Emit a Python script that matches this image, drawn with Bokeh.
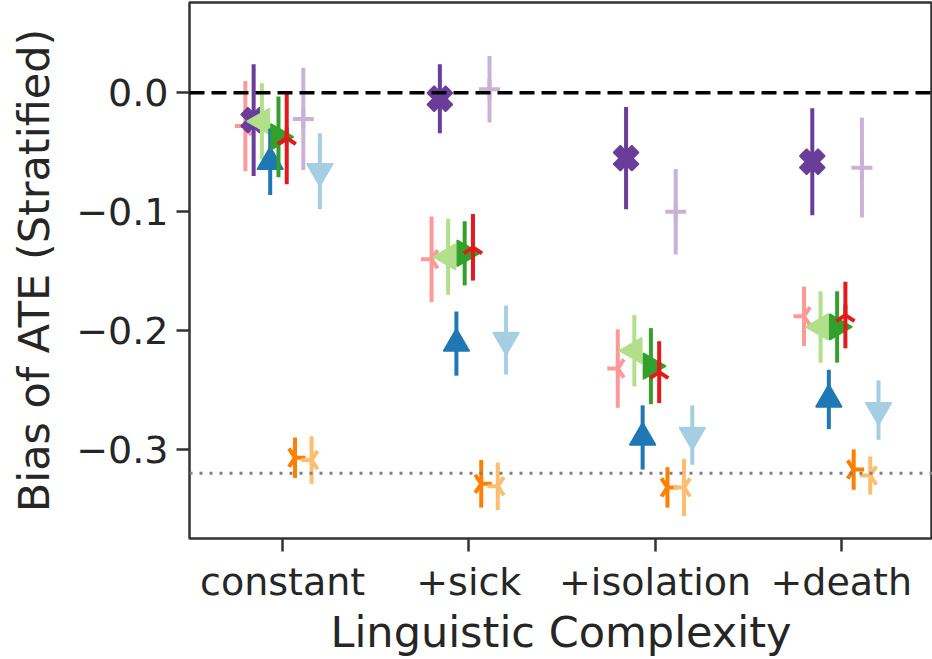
import numpy as np
from bokeh.plotting import figure
from bokeh.models import Range1d, FixedTicker, Span, ColumnDataSource
from bokeh.embed import file_html
from bokeh.resources import INLINE

# ---------------- data ----------------
categories = ["constant", "+sick", "+isolation", "+death"]
y_tick_values = [-0.3, -0.2, -0.1, 0.0]
y_tick_labels = ["\u22120.3", "\u22120.2", "\u22120.1", "0.0"]
zero_line = 0.0
reference_bias = -0.32

pink_vals = [-0.028, -0.140, -0.232, -0.188]
pink_err = [0.038, 0.036, 0.033, 0.025]
purple_vals = [-0.023, -0.005, -0.055, -0.058]
purple_err = [0.047, 0.029, 0.043, 0.045]
lgreen_vals = [-0.024, -0.138, -0.217, -0.197]
lgreen_err = [0.032, 0.032, 0.030, 0.030]
blue_vals = [-0.058, -0.211, -0.290, -0.258]
blue_err = [0.028, 0.027, 0.027, 0.025]
green_vals = [-0.037, -0.135, -0.230, -0.197]
green_err = [0.034, 0.027, 0.032, 0.030]
red_vals = [-0.038, -0.130, -0.235, -0.187]
red_err = [0.039, 0.028, 0.026, 0.028]
orange_vals = [-0.307, -0.329, -0.332, -0.317]
orange_err = [0.017, 0.020, 0.017, 0.017]
lpurple_vals = [-0.022, 0.003, -0.100, -0.063]
lpurple_err = [0.043, 0.028, 0.036, 0.042]
lorange_vals = [-0.309, -0.331, -0.332, -0.322]
lorange_err = [0.020, 0.020, 0.024, 0.016]
lblue_vals = [-0.066, -0.208, -0.288, -0.267]
lblue_err = [0.032, 0.029, 0.025, 0.025]

# (values, errors, colour, marker, angle, filled)
series = [
    (pink_vals, pink_err, "#fb9a99", "y", -np.pi / 2, False),
    (purple_vals, purple_err, "#6a3d9a", "plus", np.pi / 4, True),
    (lgreen_vals, lgreen_err, "#b2df8a", "triangle", np.pi / 2, True),
    (blue_vals, blue_err, "#1f78b4", "triangle", 0.0, True),
    (green_vals, green_err, "#33a02c", "triangle", -np.pi / 2, True),
    (red_vals, red_err, "#e31a1c", "y", np.pi, False),
    (orange_vals, orange_err, "#ff7f00", "y", np.pi / 2, False),
    (lpurple_vals, lpurple_err, "#cab2d6", "cross", 0.0, False),
    (lorange_vals, lorange_err, "#fdbf6f", "y", -np.pi / 2, False),
    (lblue_vals, lblue_err, "#a6cee3", "inverted_triangle", 0.0, True),
]
offsets = np.linspace(-0.2, 0.2, len(series))

# ---------------- figure ----------------
TXT = "#262626"
FONT = "DejaVu Sans"

p = figure(width=932, height=659,
           x_range=Range1d(-0.5, 3.49), y_range=Range1d(-0.375, 0.076),
           output_backend="svg", toolbar_location=None,
           min_border_left=189, min_border_right=0, min_border_top=2,
           min_border_bottom=116)
p.background_fill_color = "white"
p.border_fill_color = "white"
p.grid.visible = False
p.outline_line_color = "#333333"
p.outline_line_width = 2.5
p.outline_line_alpha = 1.0

base = np.arange(len(categories))
for (vals, errs, col, mk, ang, filled), off in zip(series, offsets):
    v = np.array(vals)
    e = np.array(errs)
    src = ColumnDataSource(dict(x=base + off, y=v, lo=v - e, hi=v + e))
    p.segment(x0="x", y0="lo", x1="x", y1="hi", source=src,
              line_color=col, line_width=4)
    if filled:
        p.scatter(x="x", y="y", source=src, marker=mk, angle=ang, size=26,
                  fill_color=col, line_color=col, line_width=1.5)
    else:
        p.scatter(x="x", y="y", source=src, marker=mk, angle=ang, size=21,
                  fill_color=None, line_color=col, line_width=4)

p.add_layout(Span(location=zero_line, dimension="width", line_color="black",
                  line_dash="15 7", line_width=3.5))
p.add_layout(Span(location=reference_bias, dimension="width", line_color="#808080",
                  line_dash="3 7", line_width=3))

# axes
xa = p.xaxis[0]
xa.ticker = FixedTicker(ticks=list(base))
xa.major_label_overrides = {int(i): c for i, c in zip(base, categories)}
xa.axis_label = "Linguistic Complexity"
ya = p.yaxis[0]
ya.ticker = FixedTicker(ticks=y_tick_values)
ya.major_label_overrides = {v: s for v, s in zip(y_tick_values, y_tick_labels)}
ya.axis_label = "Bias of ATE (Stratified)"

for ax in (xa, ya):
    ax.axis_line_color = None
    ax.major_tick_line_color = "#333333"
    ax.major_tick_line_width = 2.5
    ax.major_tick_out = 13
    ax.major_tick_in = 0
    ax.minor_tick_line_color = None
    ax.major_label_text_font = FONT
    ax.major_label_text_font_size = "38px"
    ax.major_label_text_color = TXT
    ax.axis_label_text_font = FONT
    ax.axis_label_text_font_size = "43px"
    ax.axis_label_text_font_style = "normal"
    ax.axis_label_text_color = TXT

xa.major_label_standoff = 8
xa.axis_label_standoff = 0
ya.major_label_standoff = 8
ya.axis_label_standoff = 14

open("out.html", "w").write(file_html(p, INLINE))
